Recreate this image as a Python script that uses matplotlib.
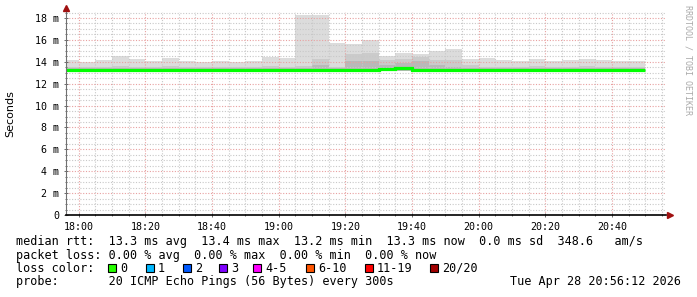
import numpy as np
import matplotlib
matplotlib.use("Agg")
import matplotlib.pyplot as plt
from matplotlib.patches import Rectangle
from matplotlib.ticker import MultipleLocator, FuncFormatter

# 5 minute steps, minutes relative to 18:00 (end of each step)
step_end = [5 * i for i in range(35)]

# smoke layers (ms)
rtt_max = [14.16, 14.00, 14.16, 14.53, 14.25, 14.04, 14.35, 14.04, 13.98, 14.07,
           13.98, 14.07, 14.47, 14.32, 18.27, 18.27, 15.69, 15.60, 16.00, 14.56,
           14.80, 14.71, 14.98, 15.17, 14.22, 14.35, 14.13, 14.04, 14.25, 14.04,
           14.16, 14.25, 14.16, 14.07, 14.07]
rtt_mid = [13.55, 13.50, 13.55, 13.60, 13.55, 13.50, 13.60, 13.50, 13.50, 13.50,
           13.50, 13.50, 13.60, 13.55, 13.60, 14.25, 13.50, 14.68, 14.83, 14.16,
           14.25, 14.47, 14.16, 14.16, 13.70, 13.55, 13.55, 13.50, 13.60, 13.50,
           13.55, 13.60, 13.55, 13.50, 13.50]
rtt_inner = [13.40, 13.40, 13.40, 13.45, 13.40, 13.40, 13.45, 13.40, 13.40, 13.40,
             13.40, 13.40, 13.45, 13.40, 13.45, 13.70, 13.40, 14.07, 14.07, 13.70,
             13.86, 14.10, 13.70, 13.55, 13.45, 13.40, 13.40, 13.40, 13.45, 13.40,
             13.40, 13.45, 13.40, 13.40, 13.40]
rtt_min = [13.10, 13.10, 13.10, 13.10, 13.10, 13.10, 13.10, 13.10, 13.10, 13.10,
           13.10, 13.10, 13.10, 13.10, 13.10, 13.05, 13.10, 13.10, 13.10, 13.15,
           13.20, 13.10, 13.10, 13.10, 13.10, 13.10, 13.05, 13.05, 13.05, 13.10,
           13.05, 13.05, 13.10, 13.05, 13.10]
rtt_median = [13.22, 13.27, 13.27, 13.22, 13.27, 13.25, 13.25, 13.25, 13.25, 13.25,
              13.25, 13.25, 13.25, 13.25, 13.23, 13.21, 13.28, 13.27, 13.27, 13.33,
              13.40, 13.25, 13.27, 13.27, 13.27, 13.27, 13.25, 13.22, 13.22, 13.25,
              13.22, 13.22, 13.25, 13.21, 13.25]

xtick_labels = ["18:00", "18:20", "18:40", "19:00", "19:20", "19:40", "20:00", "20:20", "20:40"]

loss_labels = ["0", "1", "2", "3", "4-5", "6-10", "11-19", "20/20"]
loss_colors = ["#26ff00", "#00b8ff", "#0059ff", "#7e00ff", "#ff00ff", "#ff5500", "#ff0000", "#a10000"]

W, H = 697, 297
def fx(px):
    return px / W
def fy(py):
    return 1 - py / H

fig = plt.figure(figsize=(W / 100, H / 100), dpi=100)
fig.patch.set_facecolor("white")
ax = fig.add_axes([fx(66), fy(215), 600 / W, (215 - 12) / H])

left = np.array(step_end) - 5
lo = np.array(rtt_min)
ax.bar(left, np.array(rtt_max) - lo, bottom=lo, width=5, align="edge", color="#dcdcdc", lw=0, zorder=0.2)
ax.bar(left, np.array(rtt_mid) - lo, bottom=lo, width=5, align="edge", color="#cbcbcb", lw=0, zorder=0.3)
ax.bar(left, np.array(rtt_inner) - lo, bottom=lo, width=5, align="edge", color="#b9b9b9", lw=0, zorder=0.4)
edges = list(left) + [step_end[-1]]
ax.stairs(rtt_median, edges, color="#00ff00", lw=2.3, baseline=None, zorder=2)

ax.set_xlim(-3.8, 176.2)
ax.set_ylim(0, 18.55)
ax.xaxis.set_minor_locator(MultipleLocator(5))
ax.yaxis.set_major_locator(MultipleLocator(2))
ax.yaxis.set_minor_locator(MultipleLocator(0.5))
ax.set_xticks(range(0, 161, 20))
ax.set_xticklabels(xtick_labels)
ax.yaxis.set_major_formatter(FuncFormatter(lambda v, p: "0" if v == 0 else "%g m" % v))

ax.set_axisbelow(True)
ax.grid(which="major", color="#e8a0a0", ls=(0, (1, 1.5)), lw=0.8)
ax.grid(which="minor", color="#c8c8c8", ls=(0, (1, 1.5)), lw=0.8)
ax.tick_params(which="both", direction="inout", colors="#555555", labelcolor="black",
               labelsize=7.2, length=3, width=0.6)
ax.tick_params(which="minor", length=2)
for lbl in ax.get_xticklabels() + ax.get_yticklabels():
    lbl.set_family("DejaVu Sans Mono")

for s in ["top", "right"]:
    ax.spines[s].set_visible(False)
ax.spines["left"].set_color("#707070")
ax.spines["bottom"].set_color("black")
ax.spines["bottom"].set_linewidth(1.2)
# axis arrows
ax.plot([0], [1.02], marker="^", color="#a01010", ms=4, transform=ax.transAxes, clip_on=False)
ax.plot([1.007], [0], marker=">", color="#a01010", ms=4, transform=ax.transAxes, clip_on=False)

fig.text(fx(10), fy(114), "Seconds", rotation=90, fontsize=8, ha="center", va="center")
fig.text(fx(688), fy(5), "RRDTOOL / TOBI OETIKER", rotation=270, fontsize=6, color="#aaaaaa",
         family="DejaVu Sans Mono", ha="center", va="top")

mono = dict(family="DejaVu Sans Mono", fontsize=8.5, va="center")
fig.text(fx(16), fy(241), "median rtt:  13.3 ms avg  13.4 ms max  13.2 ms min  13.3 ms now  0.0 ms sd  348.6   am/s", **mono)
fig.text(fx(16), fy(255), "packet loss: 0.00 % avg  0.00 % max  0.00 % min  0.00 % now", **mono)
fig.text(fx(16), fy(268), "loss color:", **mono)
fig.text(fx(16), fy(282), "probe:       20 ICMP Echo Pings (56 Bytes) every 300s", **mono)
fig.text(fx(681), fy(282), "Tue Apr 28 20:56:12 2026", ha="right", **mono)

box_x = [108, 146, 183, 219, 253, 306, 365, 430]
for bx, lab, col in zip(box_x, loss_labels, loss_colors):
    fig.add_artist(Rectangle((fx(bx), fy(272)), 8 / W, 8 / H, transform=fig.transFigure,
                             facecolor=col, edgecolor="black", lw=0.8))
    fig.text(fx(bx + 12), fy(268), lab, **mono)

fig.savefig("out.png", dpi=100)
